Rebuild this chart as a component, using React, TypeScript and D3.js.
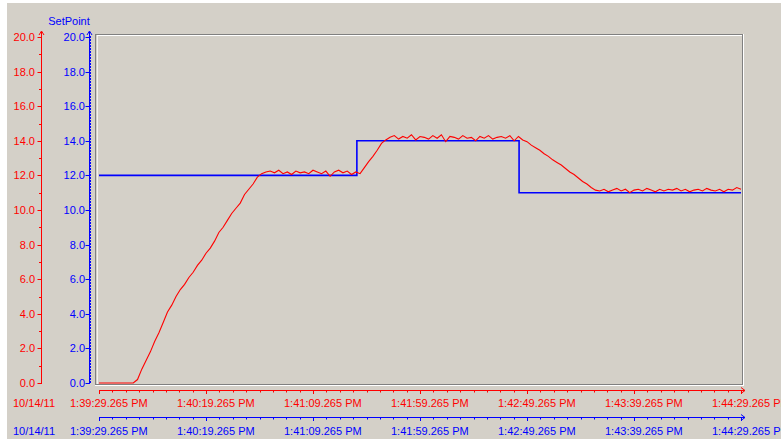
import React from "react";
import * as d3 from "d3";

// process value (red), one reading every 2 s from 1:39:29.265 PM
const sampleStep = 2;
const pvValues = [
  0, 0, 0, 0, 0, 0, 0, 0, 0,
  0.2, 0.8, 1.3, 1.8, 2.4, 2.9, 3.5, 4.1, 4.5, 5.0,
  5.4, 5.7, 6.1, 6.4, 6.8, 7.1, 7.5, 7.8, 8.2, 8.7,
  9.0, 9.4, 9.8, 10.1, 10.4, 10.9, 11.2, 11.5, 11.9, 12.1,
  12.2, 12.25, 12.15, 12.3, 12.1, 12.2, 12.05, 12.25, 12.15, 12.2,
  12.1, 12.3, 12.2, 12.1, 12.25, 11.95, 12.2, 12.3, 12.15, 12.25,
  12.05, 12.2, 12.1, 12.45, 12.8, 13.1, 13.45, 13.85, 14.05, 14.2,
  14.3, 14.1, 14.25, 14.15, 14.35, 14.05, 14.25, 14.2, 14.1, 14.3,
  14.15, 14.35, 13.95, 14.25, 14.2, 14.1, 14.3, 14.15, 14.2, 14.0,
  14.25, 14.15, 14.3, 14.1, 14.2, 14.25, 14.15, 14.3, 14.0, 14.25,
  14.05, 13.95, 13.75, 13.6, 13.45, 13.25, 13.1, 12.9, 12.75, 12.6,
  12.4, 12.2, 12.05, 11.85, 11.65, 11.5, 11.3, 11.15, 11.1, 11.2,
  11.05, 11.15, 11.25, 11.1, 11.2, 11.0, 11.15, 11.2, 11.1, 11.25,
  11.15, 11.05, 11.2, 11.1, 11.2, 11.15, 11.25, 11.1, 11.2, 11.05,
  11.15, 11.2, 11.1, 11.25, 11.15, 11.1, 11.2, 11.05, 11.2, 11.15,
  11.3, 11.2,
];

// setpoint (blue), step changes
const spTimes = [0, 120.5, 196.3, 300];
const spValues = [12, 14, 11, 11];

const xTickSeconds = [0, 50, 100, 150, 200, 250, 300];
const xTickLabels = [
  "1:39:29.265 PM",
  "1:40:19.265 PM",
  "1:41:09.265 PM",
  "1:41:59.265 PM",
  "1:42:49.265 PM",
  "1:43:39.265 PM",
  "1:44:29.265 PM",
];
const dateLabel = "10/14/11";
const spAxisTitle = "SetPoint";

const RED = "#ff0000";
const BLUE = "#0000ff";
const BG = "#d4d0c8";
const FONT = "'Liberation Sans', Arial, sans-serif";

export default function App() {
  const W = 781, H = 439;
  const x = d3.scaleLinear().domain([0, 300]).range([99, 741]);
  const y = d3.scaleLinear().domain([0, 20]).range([383, 37]);

  const pvLine = d3.line<number>()
    .x((d, i) => x(i * sampleStep))
    .y(d => y(d));

  const spLine = d3.line<number>()
    .x((d, i) => x(spTimes[i]))
    .y(d => y(d))
    .curve(d3.curveStepAfter);

  const yMajor = y.ticks(10);
  const yMinor = y.ticks(20).filter(v => !yMajor.includes(v));
  const xMinor = d3.range(0, 300.01, 6.25).filter(v => !xTickSeconds.includes(v));

  const redAxisX = 41.5;
  const blueAxisX = 89.5;

  const xAxis = (ay: number, color: string, labelY: number) => (
    <g>
      <line x1={99} x2={745} y1={ay} y2={ay} stroke={color} />
      <path d={`M741,${ay - 3}L745,${ay}L741,${ay + 3}`} fill="none" stroke={color} />
      {xTickSeconds.map(t => (
        <line key={"M" + t} x1={x(t) + 0.5} x2={x(t) + 0.5} y1={ay} y2={ay + 3.5} stroke={color} />
      ))}
      {xMinor.map(t => (
        <line key={"m" + t} x1={Math.round(x(t)) + 0.5} x2={Math.round(x(t)) + 0.5} y1={ay} y2={ay + 2} stroke={color} />
      ))}
      <text x={13} y={labelY} fill={color} fontSize={11} fontFamily={FONT}>{dateLabel}</text>
      {xTickSeconds.map((t, i) => (
        <text key={"l" + t} x={x(t) - 29} y={labelY} fill={color} fontSize={11} fontFamily={FONT}>
          {xTickLabels[i]}
        </text>
      ))}
    </g>
  );

  return (
    <div style={{ position: "absolute", left: 0, top: 0 }}>
      <svg width={W} height={H} style={{ display: "block" }}>
        <rect x={0} y={0} width={W} height={H} fill="#ffffff" />
        <rect x={7} y={3} width={W - 7} height={H - 3} fill={BG} />

        {/* plot frame */}
        <rect x={95.5} y={34.5} width={647} height={350} fill={BG} stroke="#808080" />
        <line x1={97} x2={742} y1={35.5} y2={35.5} stroke="#ffffff" />
        <line x1={97.5} x2={97.5} y1={36} y2={384} stroke="#f4f2ee" />
        <line x1={743.5} x2={743.5} y1={34} y2={386} stroke="#ffffff" />
        <line x1={95} x2={744} y1={385.5} y2={385.5} stroke="#ffffff" />

        {/* red value axis */}
        <g>
          <line x1={redAxisX} x2={redAxisX} y1={32} y2={384} stroke={RED} />
          <path d={`M${redAxisX - 2.5},${35}L${redAxisX},${31}L${redAxisX + 2.5},${35}`} fill="none" stroke={RED} />
          {yMajor.map(v => (
            <line key={v} x1={redAxisX - 4} x2={redAxisX} y1={Math.round(y(v)) + 0.5} y2={Math.round(y(v)) + 0.5} stroke={RED} />
          ))}
          {yMinor.map(v => (
            <line key={v} x1={redAxisX - 2.5} x2={redAxisX} y1={Math.round(y(v)) + 0.5} y2={Math.round(y(v)) + 0.5} stroke={RED} />
          ))}
          {yMajor.map(v => (
            <text key={v} x={35} y={y(v) + 4} textAnchor="end" fill={RED} fontSize={11} fontFamily={FONT}>
              {v.toFixed(1)}
            </text>
          ))}
        </g>

        {/* blue setpoint axis */}
        <g>
          <line x1={blueAxisX} x2={blueAxisX} y1={32} y2={384} stroke={BLUE} />
          <line x1={blueAxisX + 1} x2={blueAxisX + 1} y1={36} y2={384} stroke={BLUE} strokeDasharray="2,1" />
          <path d={`M${blueAxisX - 2.5},${35}L${blueAxisX},${31}L${blueAxisX + 2.5},${35}`} fill="none" stroke={BLUE} />
          {yMajor.map(v => (
            <line key={v} x1={blueAxisX - 4} x2={blueAxisX} y1={Math.round(y(v)) + 0.5} y2={Math.round(y(v)) + 0.5} stroke={BLUE} />
          ))}
          {yMajor.map(v => (
            <text key={v} x={85} y={y(v) + 4} textAnchor="end" fill={BLUE} fontSize={11} fontFamily={FONT}>
              {v.toFixed(1)}
            </text>
          ))}
          <text x={69} y={25} textAnchor="middle" fill={BLUE} fontSize={11} fontFamily={FONT}>{spAxisTitle}</text>
        </g>

        {/* time axes */}
        {xAxis(390.5, RED, 407)}
        {xAxis(417.5, BLUE, 435)}

        {/* series */}
        <path d={spLine(spValues) || ""} fill="none" stroke={BLUE} strokeWidth={1.6} />
        <path d={pvLine(pvValues) || ""} fill="none" stroke={RED} strokeWidth={1.1} />
      </svg>
    </div>
  );
}
